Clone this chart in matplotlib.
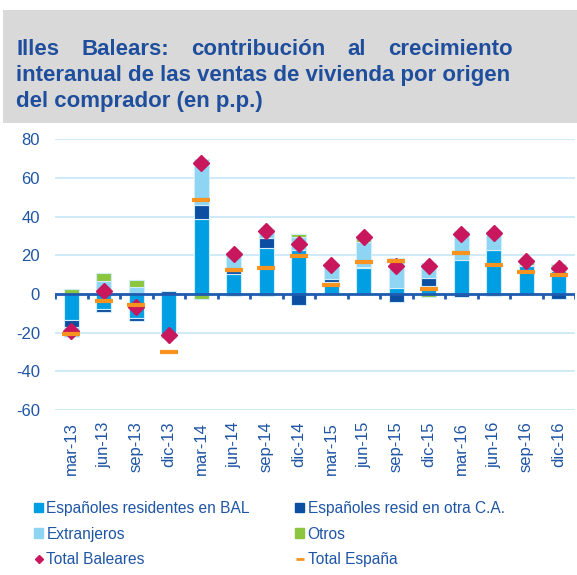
import numpy as np
import matplotlib.pyplot as plt
from matplotlib.patches import Patch, Rectangle
from matplotlib.lines import Line2D

plt.rcParams['font.family'] = ['Liberation Sans', 'DejaVu Sans']
plt.rcParams['axes.unicode_minus'] = False

# datos (p.p.)
cats = ['mar-13', 'jun-13', 'sep-13', 'dic-13', 'mar-14', 'jun-14', 'sep-14', 'dic-14',
        'mar-15', 'jun-15', 'sep-15', 'dic-15', 'mar-16', 'jun-16', 'sep-16', 'dic-16']
res_bal = [-13.3, -7.6, -12.6, -21.0, 38.6, 10.3, 23.6, 22.7, 6.0, 13.4, 3.1, 4.3, 17.7, 22.9, 14.3, 11.7]
otra_ca = [-3.8, -1.6, -1.4, 1.7, 7.4, 1.6, 5.5, -5.7, 1.7, 0.7, -4.1, 4.0, -1.5, 0.0, -0.5, -2.4]
extranj = [-5.0, 6.5, 3.4, 0.0, 23.6, 9.7, 4.5, 6.9, 7.6, 12.9, 14.6, 7.8, 13.8, 9.1, 0.9, 2.6]
otros = [2.6, 4.3, 3.6, -2.0, -2.6, -1.3, -1.3, 1.4, 0.0, 2.9, 0.7, -1.5, 1.2, -1.0, 2.6, 1.2]
total_bal = [-19.0, 1.7, -6.9, -21.4, 67.5, 20.5, 32.7, 25.7, 15.0, 29.6, 14.3, 14.3, 31.0, 31.5, 17.2, 13.4]
total_esp = [-20.8, -3.5, -5.9, -30.2, 48.6, 12.6, 13.6, 19.8, 4.7, 16.7, 17.2, 2.7, 21.0, 15.1, 11.2, 10.0]

series = [('Españoles residentes en BAL', res_bal, '#009FE3'),
          ('Españoles resid en otra C.A.', otra_ca, '#0B4EA2'),
          ('Extranjeros', extranj, '#8ED4F3'),
          ('Otros', otros, '#8CC63F')]

txt_col = '#1F55A5'
W, H = 577, 575
fig = plt.figure(figsize=(W / 100, H / 100), dpi=100)

# cabecera gris
fig.patches.append(Rectangle((3 / W, 1 - 123 / H), 1, 113 / H, transform=fig.transFigure,
                             facecolor='#D9D9D9', edgecolor='none', zorder=0))

tkw = dict(fontsize=16, fontweight='bold', color='#1F4E9C', va='baseline')
r = fig.canvas.get_renderer()


def justify(words, ybase, x0=16, x1=513):
    texts = [fig.text(0, 1 - ybase / H, w, **tkw) for w in words]
    widths = [t.get_window_extent(r).width for t in texts]
    gap = (x1 - x0 - sum(widths)) / (len(words) - 1)
    x = x0
    for t, w in zip(texts, widths):
        t.set_x(x / W)
        x += w + gap


justify('Illes Balears: contribución al crecimiento'.split(), 55)
fig.text(16 / W, 1 - 81.5 / H, 'interanual de las ventas de vivienda por origen', **tkw)
fig.text(16 / W, 1 - 107 / H, 'del comprador (en p.p.)', **tkw)

ax = fig.add_axes([55 / W, 1 - 410 / H, 520 / W, 270.7 / H])
x = np.arange(len(cats))
pos = np.zeros(len(cats))
neg = np.zeros(len(cats))
for name, vals, col in series:
    v = np.array(vals)
    base = np.where(v >= 0, pos, neg)
    ax.bar(x, v, 0.46, bottom=base, color=col, edgecolor='#D2EDFA', linewidth=0.8,
           label=name, zorder=3)
    pos += np.clip(v, 0, None)
    neg += np.clip(v, None, 0)

ax.axhline(0, color='#1F5BB0', lw=2, zorder=4)
ax.vlines(np.arange(-0.5, len(cats)), -2.6, 0, color='#1F5BB0', lw=2, zorder=4)

ax.plot(x, total_bal, 'D', color='#C8175D', ms=8, zorder=5, label='Total Baleares')
ax.plot(x, total_esp, '_', color='#F7931E', ms=12.5, mew=3, zorder=6, label='Total España')

ax.set_xlim(-0.5, len(cats) - 0.5)
ax.set_ylim(-60, 80)
ax.set_yticks(range(-60, 81, 20))
ax.set_xticks(x)
ax.set_xticklabels(cats, rotation=90)
ax.tick_params(axis='x', length=0, pad=8.4, labelsize=12, labelcolor=txt_col)
ax.tick_params(axis='y', length=0, pad=10.8, labelsize=12, labelcolor=txt_col)
for s in ax.spines.values():
    s.set_visible(False)
ax.yaxis.grid(True, color='#CFEBF8', lw=1.4, zorder=0)
ax.set_axisbelow(True)

handles = [Patch(color=series[0][2], label=series[0][0]),
           Patch(color=series[2][2], label=series[2][0]),
           Line2D([], [], ls='none', marker='D', color='#C8175D', ms=4.5, label='Total Baleares'),
           Patch(color=series[1][2], label=series[1][0]),
           Patch(color=series[3][2], label=series[3][0]),
           Line2D([], [], ls='none', marker='_', color='#F7931E', ms=6, mew=2, label='Total España')]
fig.legend(handles=handles, ncol=2, loc='upper left', bbox_to_anchor=(34 / W, 1 - 501 / H),
           frameon=False, fontsize=11.2, labelcolor=txt_col, handlelength=0.6, handleheight=0.6,
           handletextpad=0.2, columnspacing=2.9, labelspacing=0.68, borderpad=0,
           borderaxespad=0)

plt.savefig('out.png', dpi=100)
